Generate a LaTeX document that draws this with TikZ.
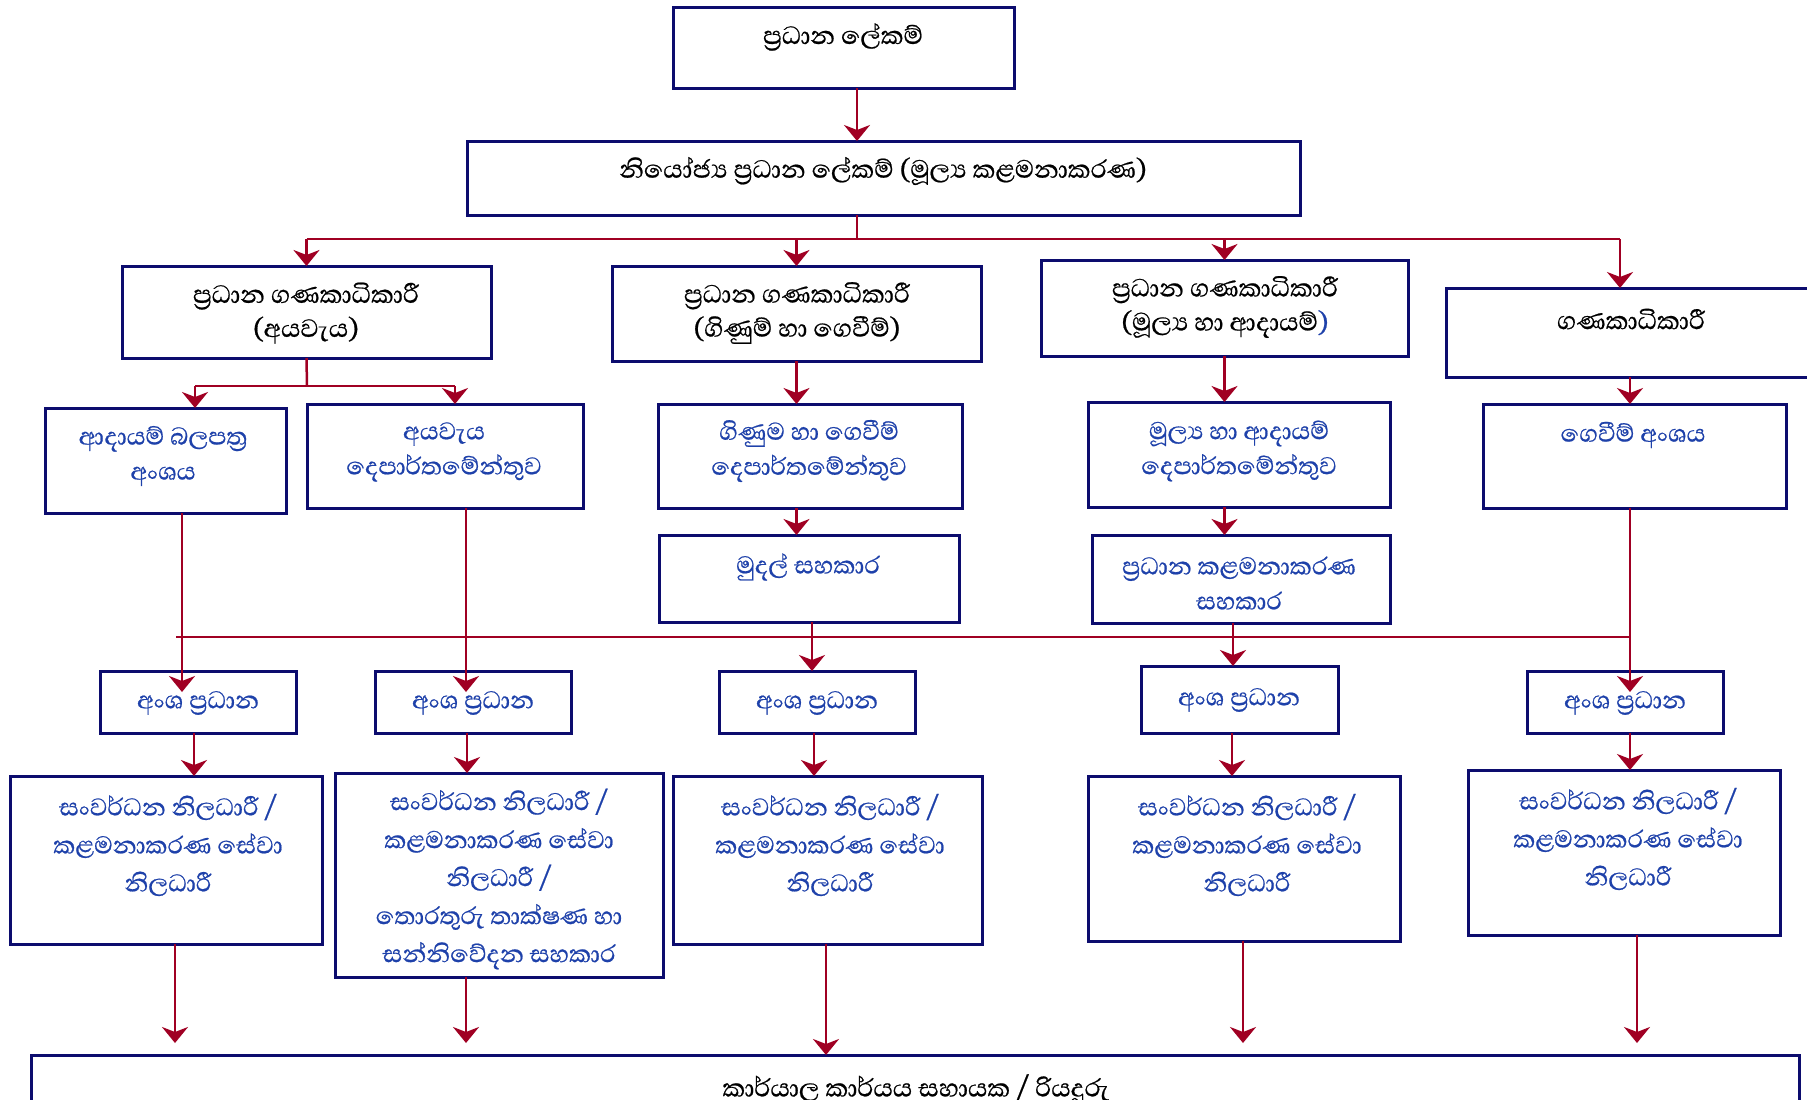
\documentclass[tikz,border=0pt]{standalone}
\usepackage{fontspec}
\newfontfamily\sinhala[Script=Sinhala, FakeBold=0.6]{Abhaya Libre}
\usetikzlibrary{arrows.meta}
\definecolor{boxline}{RGB}{12,12,110}
\definecolor{wire}{RGB}{160,0,35}
\definecolor{bluetext}{RGB}{30,65,170}
\def\zwj{^^^^200d}
% framed box: name, left, top, width, height
\newcommand\orgbox[5]{\node[box, minimum width=#4pt, minimum height=#5pt] (#1) at (#2,#3) {};}

\begin{document}
\begin{tikzpicture}[x=1pt,y=-1pt,
  box/.style={draw=boxline, line width=3pt, fill=white, anchor=north west, inner sep=0pt, outer sep=0pt},
  headtext/.style={font=\sinhala\fontsize{32}{34}\selectfont, text=black, align=center, inner sep=0pt},
  subtext/.style={font=\sinhala\fontsize{31}{35}\selectfont, text=bluetext, align=center, inner sep=0pt},
  stafftext/.style={subtext, font=\sinhala\fontsize{31}{38}\selectfont},
  link/.style={draw=wire, line width=2.5pt},
  arr/.style={link, -{Stealth[length=16pt,width=26pt,inset=5pt]}},
]
\useasboundingbox (0,0) rectangle (1807,1100);
\clip (0,0) rectangle (1807,1100);
\fill[white] (0,0) rectangle (1807,1100);

% ---- boxes ----
\orgbox{P}{673}{7}{341}{81}
\orgbox{D}{467}{141}{833}{74}
\orgbox{A}{122}{266}{369}{92}
\orgbox{B}{612}{266}{369}{95}
\orgbox{C}{1041}{260}{367}{96}
\orgbox{G}{1446}{288}{380}{89}
\orgbox{A1}{45}{408}{241}{105}
\orgbox{A2}{307}{404}{276}{104}
\orgbox{B1}{658}{404}{304}{104}
\orgbox{B2}{659}{535}{300}{87}
\orgbox{C1}{1088}{402}{302}{105}
\orgbox{C2}{1092}{535}{298}{88}
\orgbox{G1}{1483}{404}{303}{104}
\orgbox{H1}{100}{671}{196}{62}
\orgbox{H2}{375}{671}{196}{62}
\orgbox{H3}{719}{671}{196}{62}
\orgbox{H4}{1141}{666}{197}{67}
\orgbox{H5}{1527}{671}{196}{62}
\orgbox{O1}{10}{776}{312}{168}
\orgbox{O2}{335}{773}{328}{204}
\orgbox{O3}{673}{776}{309}{168}
\orgbox{O4}{1088}{776}{312}{165}
\orgbox{O5}{1468}{770}{312}{165}
\orgbox{Bot}{31}{1055}{1768}{80}

% ---- junctions and connector lanes ----
\coordinate (jTop) at (857,239);
\coordinate (bR) at (1620,239);
\coordinate (jA) at (307,386);
\coordinate (jA1) at (195,386);
\coordinate (jA2) at (455,386);
\coordinate (busL) at (176,637);
\coordinate (busR) at (1630,637);
\coordinate (htip) at (0,692);
\coordinate (stop) at (0,1043);
\coordinate (xa1) at (182,0);
\coordinate (xa2) at (466,0);
\coordinate (xb) at (812,0);
\coordinate (xc) at (1233,0);
\coordinate (xg) at (1630,0);
\coordinate (yh1) at (194,0);
\coordinate (yh2) at (467,0);
\coordinate (yh3) at (814,0);
\coordinate (yh4) at (1232,0);
\coordinate (yh5) at (1630,0);
\coordinate (xo1) at (175,0);
\coordinate (xo2) at (466,0);
\coordinate (xo3) at (826,0);
\coordinate (xo4) at (1243,0);
\coordinate (xo5) at (1637,0);

% ---- connectors ----
\draw[arr] (jTop |- P.south) -- (jTop |- D.north);
\draw[link] (jTop |- D.south) -- (jTop);
\draw[link] (A.north |- jTop) -- (bR);
\draw[arr] (A.north |- jTop) -- (A.north);
\draw[arr] (B.north |- jTop) -- (B.north);
\draw[arr] (C.north |- jTop) -- (C.north);
\draw[arr] (bR) -- (bR |- G.north);

\draw[link] (A.south) -- (jA);
\draw[link] (jA1) -- (jA2);
\draw[arr] (jA1) -- (jA1 |- A1.north);
\draw[arr] (jA2) -- (jA2 |- A2.north);
\draw[arr] (B.south) -- (B.south |- B1.north);
\draw[arr] (B.south |- B1.south) -- (B.south |- B2.north);
\draw[arr] (C.south) -- (C.south |- C1.north);
\draw[arr] (C.south |- C1.south) -- (C.south |- C2.north);
\draw[arr] (xg |- G.south) -- (xg |- G1.north);

\draw[link] (busL) -- (busR);
\draw[arr] (xa1 |- A1.south) -- (xa1 |- htip);
\draw[arr] (xa2 |- A2.south) -- (xa2 |- htip);
\draw[arr] (xb |- B2.south) -- (xb |- H3.north);
\draw[arr] (xc |- C2.south) -- (xc |- H4.north);
\draw[arr] (xg |- G1.south) -- (xg |- htip);

\draw[arr] (yh1 |- H1.south) -- (yh1 |- O1.north);
\draw[arr] (yh2 |- H2.south) -- (yh2 |- O2.north);
\draw[arr] (yh3 |- H3.south) -- (yh3 |- O3.north);
\draw[arr] (yh4 |- H4.south) -- (yh4 |- O4.north);
\draw[arr] (yh5 |- H5.south) -- (yh5 |- O5.north);

\draw[arr] (xo1 |- O1.south) -- (xo1 |- stop);
\draw[arr] (xo2 |- O2.south) -- (xo2 |- stop);
\draw[arr] (xo3 |- O3.south) -- (xo3 |- Bot.north);
\draw[arr] (xo4 |- O4.south) -- (xo4 |- stop);
\draw[arr] (xo5 |- O5.south) -- (xo5 |- stop);

% ---- labels ----
\node[headtext] (tP) at (843,37) {ප්\zwj රධාන ලේකම්};
\node[headtext] (tD) at (883,171) {නියෝජ්\zwj ය ප්\zwj රධාන ලේකම් (මූල්\zwj ය කළමනාකරණ)};
\node[headtext] (tA) at (306,313) {ප්\zwj රධාන ගණකාධිකාරී\\(අයවැය)};
\node[headtext] (tB) at (797,313) {ප්\zwj රධාන ගණකාධිකාරී\\(ගිණුම් හා ගෙවීම්)};
\node[headtext] (tC) at (1225,307) {ප්\zwj රධාන ගණකාධිකාරී\\(මූල්\zwj ය හා ආදායම්{\color{bluetext})}};
\node[headtext] (tG) at (1631,319) {ගණකාධිකාරී};

\node[subtext] (tA1) at (163,456) {ආදායම් බලපත්\zwj ර\\අංශය};
\node[subtext] (tA2) at (444,452) {අයවැය\\දෙපාර්තමේන්තුව};
\node[subtext] (tB1) at (809,451) {ගිණුම හා ගෙවීම්\\දෙපාර්තමේන්තුව};
\node[subtext] (tB2) at (808,567) {මුදල් සහකාර};
\node[subtext] (tC1) at (1239,451) {මූල්\zwj ය හා ආදායම්\\දෙපාර්තමේන්තුව};
\node[subtext] (tC2) at (1239,583) {ප්\zwj රධාන කළමනාකරණ\\සහකාර};
\node[subtext] (tG1) at (1633,435) {ගෙවීම් අංශය};

\node[subtext] (tH1) at (198,703) {අංශ ප්\zwj රධාන};
\node[subtext] (tH2) at (473,703) {අංශ ප්\zwj රධාන};
\node[subtext] (tH3) at (817,703) {අංශ ප්\zwj රධාන};
\node[subtext] (tH4) at (1239,700) {අංශ ප්\zwj රධාන};
\node[subtext] (tH5) at (1625,703) {අංශ ප්\zwj රධාන};

\node[stafftext] (tO1) at (168,845) {සංවර්ධන නිලධාරී /\\කළමනාකරණ සේවා\\නිලධාරී};
\node[stafftext] (tO2) at (499,879) {සංවර්ධන නිලධාරී /\\කළමනාකරණ සේවා\\නිලධාරී /\\තොරතුරු තාක්ෂණ හා\\සන්නිවේදන සහකාර};
\node[stafftext] (tO3) at (830,845) {සංවර්ධන නිලධාරී /\\කළමනාකරණ සේවා\\නිලධාරී};
\node[stafftext] (tO4) at (1247,845) {සංවර්ධන නිලධාරී /\\කළමනාකරණ සේවා\\නිලධාරී};
\node[stafftext] (tO5) at (1628,839) {සංවර්ධන නිලධාරී /\\කළමනාකරණ සේවා\\නිලධාරී};

\node[headtext] (tBot) at (916,1089) {කාර්යාල කාර්යය සහායක / රියදුරු};
\end{tikzpicture}
\end{document}
